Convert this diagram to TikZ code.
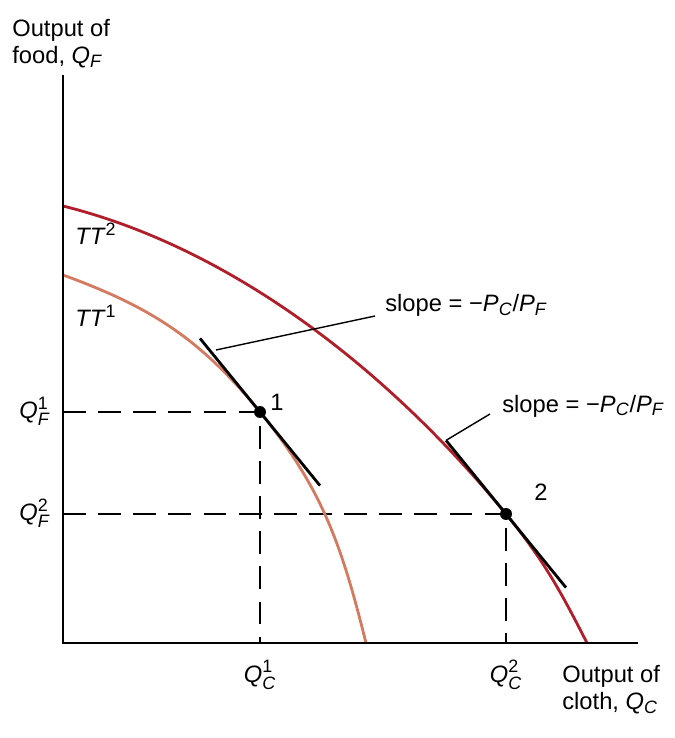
\documentclass[tikz,border=0pt]{standalone}
\usepackage{amsmath}
\usepackage{fontspec}
\setmainfont{Liberation Sans}
\usepackage{tikz}
\usetikzlibrary{calc}
\DeclareMathSizes{13.5}{13.5}{10.2}{8}
\definecolor{ttred}{HTML}{B01E2A}
\definecolor{ttsalmon}{HTML}{D47A60}
\newcommand{\pvar}[2]{\textit{#1}$_{\textit{#2}}$}
\newcommand{\pq}[3]{\textit{#1}$^{\textrm{#2}}_{\textit{#3}}$}

\begin{document}
\begin{tikzpicture}[x=0.02cm,y=0.02cm,font=\fontsize{13.5}{15.3}\selectfont,
  axis/.style={line width=1.7pt},
  guide/.style={line width=0.8pt,dash pattern=on 13pt off 7pt},
  ppf/.style={line width=1.6pt},
  tangent/.style={line width=1.6pt},
  leader/.style={line width=0.8pt},
  dot/.style={circle,fill,inner sep=0pt,minimum size=0.24cm},
  lbl/.style={inner sep=0pt}]
  \useasboundingbox (-63,-95) rectangle (612,643);
  \coordinate (O) at (0,0);
  \coordinate (ytop) at (0,568);
  \coordinate (xend) at (575,0);
  \coordinate (p1) at (197,231);
  \coordinate (p2) at (443,129);
  \coordinate (t1a) at ($(p1)+(-60,73.6)$);
  \coordinate (t1b) at ($(p1)+(60,-73.6)$);
  \coordinate (t2a) at ($(p2)+(-60,73.6)$);
  \coordinate (t2b) at ($(p2)+(60,-73.6)$);
  \coordinate (l1) at (153,293);
  % dashed guides
  \draw[guide] (p1 -| O) -- (p1) -- (p1 |- O);
  \draw[guide] (p2 -| O) -- (p2) -- (p2 |- O);
  % transformation curves
  \draw[ppf,ttsalmon] (0,368) to[out=-20,in=129.2] (p1) to[out=-50.8,in=104] (303,0);
  \draw[ppf,ttred] (0,437) to[out=-14,in=129.2,looseness=0.85] (p2) to[out=-50.8,in=117] (524,0);
  \draw[axis] (ytop) -- (O) -- (xend);
  % price lines
  \draw[tangent] (t1a) -- (t1b);
  \draw[tangent] (t2a) -- (t2b);
  \node[dot] (d1) at (p1) {};
  \node[dot] (d2) at (p2) {};
  \node[lbl] (n1) at (214,241) {1};
  \node[lbl] (n2) at (478,151) {2};
  \node[lbl,anchor=base west] (tt2) at (12,398) {\textit{TT}$^{\textrm{2}}$};
  \node[lbl,anchor=base west] (tt1) at (12,316) {\textit{TT}$^{\textrm{1}}$};
  \node[lbl,anchor=base west] (slope1) at (322,331) {slope = −\pvar{P}{C}/\pvar{P}{F}};
  \node[lbl,anchor=base west] (slope2) at (439,231) {slope = −\pvar{P}{C}/\pvar{P}{F}};
  \draw[leader] (l1) -- ([shift={(-10,-4)}]slope1.base west);
  \draw[leader] (t2a) -- ([shift={(-12,-2)}]slope2.base west);
  % axis labels
  \node[lbl,anchor=base east] (qf1) at (-13,224.5) {\pq{Q}{1}{F}};
  \node[lbl,anchor=base east] (qf2) at (-13,122.5) {\pq{Q}{2}{F}};
  \node[lbl,anchor=base] (qc1) at (197,-39) {\pq{Q}{1}{C}};
  \node[lbl,anchor=base] (qc2) at (443,-39) {\pq{Q}{2}{C}};
  \node[lbl,anchor=north west,align=left] (yname) at (-51,624) {Output of\\food, \pvar{Q}{F}};
  \node[lbl,anchor=north west,align=left] (xname) at (499,-22) {Output of\\cloth, \pvar{Q}{C}};
\end{tikzpicture}
\end{document}
